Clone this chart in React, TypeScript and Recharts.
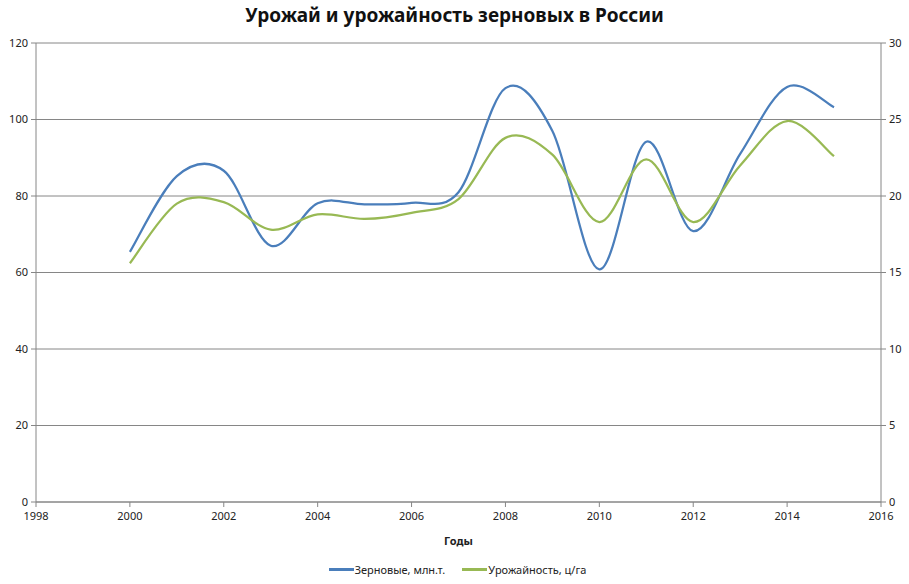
import React from "react";
import {
  LineChart,
  Line,
  XAxis,
  YAxis,
  CartesianGrid,
  Legend,
} from "recharts";

const years = [2000, 2001, 2002, 2003, 2004, 2005, 2006, 2007, 2008, 2009, 2010, 2011, 2012, 2013, 2014, 2015];
const grain = [65.4, 85.2, 86.6, 67.0, 78.1, 77.8, 78.2, 81.0, 108.2, 97.0, 60.8, 94.2, 70.8, 91.0, 108.5, 103.2];
const yields = [15.6, 19.5, 19.6, 17.8, 18.8, 18.5, 18.9, 19.8, 23.8, 22.7, 18.3, 22.4, 18.3, 22.0, 24.9, 22.6];

const xTicks = [1998, 2000, 2002, 2004, 2006, 2008, 2010, 2012, 2014, 2016];
const leftTicks = [0, 20, 40, 60, 80, 100, 120];
const rightTicks = [0, 5, 10, 15, 20, 25, 30];

const title = "Урожай и урожайность зерновых в России";
const xLabel = "Годы";
const grainName = "Зерновые, млн.т.";
const yieldName = "Урожайность, ц/га";

const data = years.map((y, i) => ({ year: y, grain: grain[i], yield: yields[i] }));

const BLUE = "#4A7EBB";
const GREEN = "#98B954";
const GRID = "#868686";
const FONT = "'Noto Sans', sans-serif";

// Excel-like smoothed line (Catmull-Rom / cardinal, tension 0)
function excelCurve(context: any) {
  let pts: [number, number][] = [];
  return {
    areaStart() {},
    areaEnd() {},
    lineStart() {
      pts = [];
    },
    lineEnd() {
      if (!pts.length) return;
      context.moveTo(pts[0][0], pts[0][1]);
      for (let i = 0; i < pts.length - 1; i++) {
        const p0 = pts[i - 1] || pts[i];
        const p1 = pts[i];
        const p2 = pts[i + 1];
        const p3 = pts[i + 2] || pts[i + 1];
        context.bezierCurveTo(
          p1[0] + (p2[0] - p0[0]) / 6,
          p1[1] + (p2[1] - p0[1]) / 6,
          p2[0] - (p3[0] - p1[0]) / 6,
          p2[1] - (p3[1] - p1[1]) / 6,
          p2[0],
          p2[1]
        );
      }
    },
    point(x: number, y: number) {
      pts.push([+x, +y]);
    },
  };
}

const LegendContent = (props: any) => {
  const payload = props.payload || [];
  return (
    <div style={{ display: "flex", justifyContent: "center", alignItems: "center", fontFamily: FONT, fontSize: 11, color: "#222", paddingLeft: 6 }}>
      {payload.map((p: any, i: number) => (
        <div key={i} style={{ display: "flex", alignItems: "center", marginLeft: i ? 17 : 0 }}>
          <div style={{ width: 25, height: 2.5, background: p.color, marginRight: 1 }} />
          <span>{p.value}</span>
        </div>
      ))}
    </div>
  );
};

export default function App() {
  return (
    <div style={{ position: "absolute", left: 0, top: 0, width: 909, height: 584, background: "#fff" }}>
      <div
        style={{
          position: "absolute",
          left: 0,
          top: 3,
          width: 909,
          textAlign: "center",
          fontFamily: FONT,
          fontWeight: 700,
          fontSize: 19,
          lineHeight: "24px",
          color: "#111",
        }}
      >
        {title}
      </div>
      <LineChart width={909} height={584} data={data} margin={{ top: 43, right: 0, bottom: 37, left: 0 }}>
        <CartesianGrid yAxisId="left" vertical={false} stroke={GRID} strokeWidth={1} />
        <XAxis
          dataKey="year"
          type="number"
          domain={[1998, 2016]}
          ticks={xTicks}
          interval={0}
          height={45}
          tickSize={5}
          tickMargin={5}
          stroke={GRID}
          tick={{ fill: "#222", fontSize: 11, fontFamily: FONT }}
          label={{ value: xLabel, position: "insideBottom", offset: 2, fill: "#222", fontSize: 11, fontWeight: 700, fontFamily: FONT }}
        />
        <YAxis
          yAxisId="left"
          domain={[0, 120]}
          ticks={leftTicks}
          interval={0}
          width={36}
          tickSize={5}
          tickMargin={3}
          stroke={GRID}
          tick={{ fill: "#222", fontSize: 11, fontFamily: FONT }}
        />
        <YAxis
          yAxisId="right"
          orientation="right"
          domain={[0, 30]}
          ticks={rightTicks}
          interval={0}
          width={28}
          tickSize={5}
          tickMargin={3}
          stroke={GRID}
          tick={{ fill: "#222", fontSize: 11, fontFamily: FONT }}
        />
        <Legend
          verticalAlign="middle"
          align="center"
          layout="horizontal"
          wrapperStyle={{ top: 562, left: 0, width: 909 }}
          content={<LegendContent />}
        />
        <Line
          yAxisId="left"
          dataKey="grain"
          name={grainName}
          stroke={BLUE}
          strokeWidth={2.25}
          dot={false}
          type={excelCurve as any}
          isAnimationActive={false}
        />
        <Line
          yAxisId="right"
          dataKey="yield"
          name={yieldName}
          stroke={GREEN}
          strokeWidth={2.25}
          dot={false}
          type={excelCurve as any}
          isAnimationActive={false}
        />
      </LineChart>
    </div>
  );
}
